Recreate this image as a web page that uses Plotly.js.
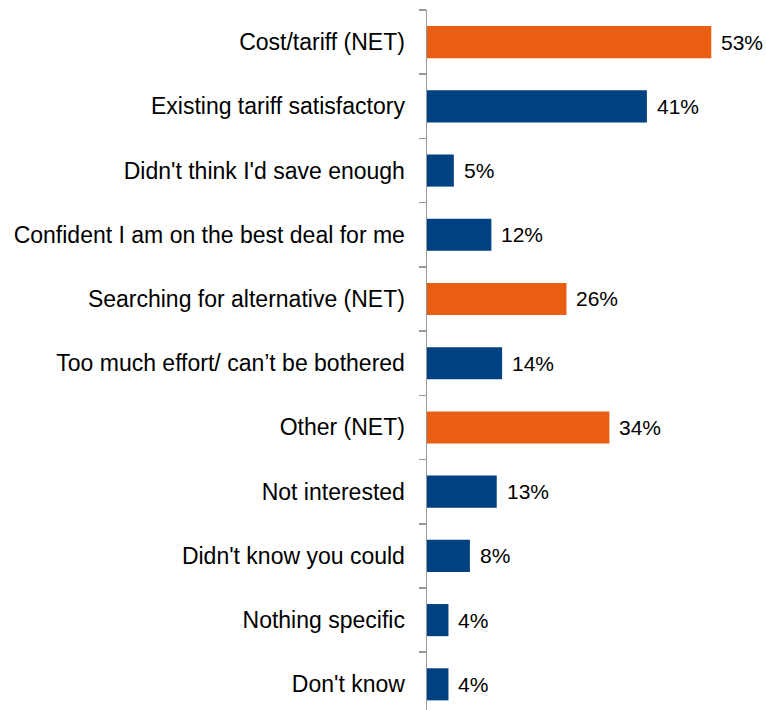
<!DOCTYPE html>
<html>
<head>
<meta charset="utf-8">
<script src="https://cdn.plot.ly/plotly-3.0.1.min.js"></script>
<style>html,body{margin:0;padding:0;background:#fff;}#chart{width:766px;height:710px;}</style>
</head>
<body>
<div id="chart"></div>
<script>
const categories = [
  "Cost/tariff (NET)",
  "Existing tariff satisfactory",
  "Didn't think I'd save enough",
  "Confident I am on the best deal for me",
  "Searching for alternative (NET)",
  "Too much effort/ can\u2019t be bothered",
  "Other (NET)",
  "Not interested",
  "Didn't know you could",
  "Nothing specific",
  "Don't know"
];
const values = [53, 41, 5, 12, 26, 14, 34, 13, 8, 4, 4];
const isNet = [true, false, false, false, true, false, true, false, false, false, false];
const valueLabels = values.map(v => v + "%");

const ORANGE = "#E95E12";
const NAVY = "#004182";

const trace = {
  type: "bar",
  orientation: "h",
  x: values,
  y: categories,
  marker: { color: isNet.map(n => n ? ORANGE : NAVY) },
  hoverinfo: "none"
};

const annotations = values.map((v, i) => ({
  x: v, y: categories[i], xref: "x", yref: "y",
  text: valueLabels[i], showarrow: false,
  xanchor: "left", yanchor: "middle", xshift: 8,
  font: { family: "Liberation Sans, Arial, sans-serif", size: 21, color: "#000" }
}));

const layout = {
  width: 766, height: 710,
  margin: { l: 427, r: 0, t: 10, b: 0 },
  paper_bgcolor: "#fff", plot_bgcolor: "#fff",
  showlegend: false,
  bargap: 0.5,
  xaxis: {
    range: [0, 63.2], visible: false, fixedrange: true
  },
  yaxis: {
    type: "category",
    range: [10.40, -0.5],
    showline: true, linecolor: "#999", linewidth: 1.5,
    ticks: "outside", tickson: "boundaries", ticklen: 7, tickcolor: "#999", tickwidth: 1.5,
    ticklabelstandoff: 16,
    showgrid: false, zeroline: false,
    tickfont: { family: "Liberation Sans, Arial, sans-serif", size: 23, color: "#000" }
  },
  annotations: annotations
};

Plotly.newPlot("chart", [trace], layout, { staticPlot: true, displayModeBar: false });
</script>
</body>
</html>
